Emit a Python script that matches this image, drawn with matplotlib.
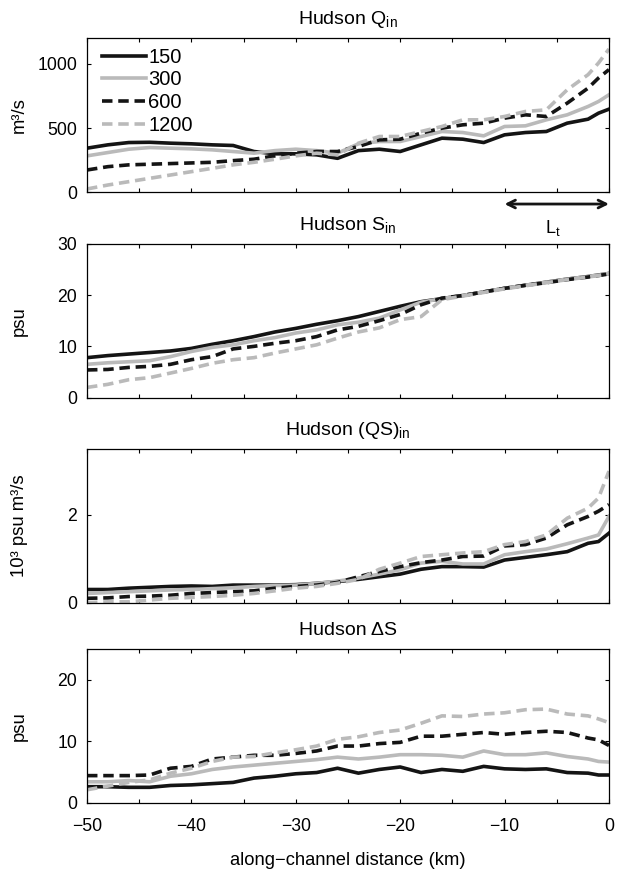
import matplotlib
matplotlib.use("Agg")
import matplotlib.pyplot as plt
from matplotlib.ticker import MultipleLocator

plt.rcParams["font.family"] = ["Liberation Sans", "DejaVu Sans"]
plt.rcParams["mathtext.default"] = "regular"

# along-channel distance (km)
x = [-50, -48, -46, -44, -42, -40, -38, -36, -34, -32, -30, -28, -26, -24,
     -22, -20, -18, -16, -14, -12, -10, -8, -6, -4, -2, -1, 0]

runs = ["150", "300", "600", "1200"]

# Q_in (m3/s)
q150 = [344, 370, 388, 390, 383, 378, 370, 365, 318, 300, 300, 292, 265, 325,
        336, 318, 370, 422, 414, 388, 448, 466, 474, 539, 570, 617, 648]
q300 = [284, 310, 336, 349, 344, 339, 331, 318, 305, 325, 336, 325, 305, 378,
        396, 396, 435, 474, 466, 440, 513, 518, 565, 604, 669, 708, 760]
q600 = [174, 200, 214, 219, 224, 229, 234, 247, 258, 284, 305, 318, 318, 357,
        409, 414, 461, 500, 526, 539, 578, 604, 591, 695, 812, 891, 956]
q1200 = [26, 57, 83, 109, 135, 161, 187, 214, 234, 258, 284, 305, 292, 383,
         435, 435, 474, 513, 565, 565, 591, 630, 643, 799, 917, 1008, 1117]

# S_in (psu)
s150 = [7.8, 8.2, 8.5, 8.8, 9.1, 9.6, 10.4, 11.1, 11.9, 12.8, 13.5, 14.3, 15.0,
        15.8, 16.8, 17.8, 18.7, 19.3, 19.9, 20.6, 21.3, 21.9, 22.5, 23.1, 23.6,
        23.9, 24.2]
s300 = [6.5, 6.8, 7.0, 7.2, 8.0, 9.0, 9.8, 10.3, 11.1, 11.7, 12.6, 13.2, 14.2,
        14.7, 15.5, 17.1, 18.6, 19.3, 19.9, 20.6, 21.3, 21.9, 22.5, 23.1, 23.6,
        23.9, 24.2]
s600 = [5.4, 5.5, 5.9, 6.1, 6.5, 7.4, 8.0, 9.5, 10.0, 10.6, 11.1, 11.9, 13.2,
        13.9, 15.0, 16.2, 18.1, 19.4, 19.9, 20.6, 21.3, 21.9, 22.4, 23.0, 23.5,
        23.8, 24.1]
s1200 = [2.0, 2.6, 3.5, 3.9, 4.8, 5.7, 6.7, 7.4, 7.8, 8.7, 9.5, 10.3, 11.6,
         12.8, 13.6, 15.2, 15.8, 19.1, 19.8, 20.5, 21.2, 21.8, 22.4, 23.0, 23.5,
         23.8, 24.2]

# (QS)_in (10^3 psu m3/s)
qs150 = [0.30, 0.30, 0.33, 0.35, 0.37, 0.38, 0.37, 0.40, 0.40, 0.40, 0.41, 0.44,
         0.48, 0.53, 0.59, 0.65, 0.76, 0.82, 0.82, 0.81, 0.97, 1.03, 1.09, 1.16,
         1.35, 1.39, 1.58]
qs300 = [0.21, 0.23, 0.25, 0.27, 0.29, 0.30, 0.32, 0.34, 0.37, 0.39, 0.40, 0.44,
         0.49, 0.56, 0.65, 0.75, 0.90, 0.94, 0.88, 0.88, 1.09, 1.16, 1.22, 1.34,
         1.47, 1.54, 1.96]
qs600 = [0.10, 0.11, 0.14, 0.15, 0.17, 0.21, 0.23, 0.25, 0.27, 0.33, 0.37, 0.40,
         0.46, 0.59, 0.71, 0.82, 0.91, 0.97, 1.05, 1.06, 1.29, 1.32, 1.47, 1.77,
         1.96, 2.08, 2.23]
qs1200 = [0.00, 0.02, 0.02, 0.06, 0.10, 0.12, 0.14, 0.17, 0.21, 0.27, 0.33, 0.37,
          0.44, 0.53, 0.76, 0.90, 1.05, 1.09, 1.13, 1.16, 1.32, 1.39, 1.54, 1.92,
          2.15, 2.38, 2.99]

# Delta S (psu)
ds150 = [2.6, 2.6, 2.5, 2.5, 2.8, 2.9, 3.1, 3.3, 4.0, 4.3, 4.7, 4.9, 5.6, 4.8,
         5.4, 5.8, 4.9, 5.4, 5.1, 5.9, 5.5, 5.4, 5.5, 4.9, 4.8, 4.5, 4.5]
ds300 = [3.4, 3.4, 3.6, 3.4, 4.3, 4.7, 5.4, 5.8, 6.1, 6.4, 6.7, 7.0, 7.4, 7.1,
         7.4, 7.8, 7.8, 7.7, 7.4, 8.4, 7.8, 7.8, 8.1, 7.5, 7.1, 6.7, 6.6]
ds600 = [4.4, 4.4, 4.4, 4.5, 5.6, 5.9, 7.1, 7.4, 7.7, 7.7, 8.0, 8.4, 9.2, 9.2,
         9.6, 9.8, 10.8, 10.8, 11.1, 11.4, 11.1, 11.4, 11.6, 11.4, 10.5, 10.2, 9.3]
ds1200 = [2.1, 2.7, 3.3, 3.7, 4.8, 5.6, 6.7, 7.4, 7.5, 8.1, 8.6, 9.2, 10.3, 10.7,
          11.4, 11.8, 12.9, 14.1, 14.0, 14.4, 14.6, 15.1, 15.2, 14.4, 14.1, 13.6,
          13.0]

panels = [
    ("Hudson Q$_{in}$", "m\u00b3/s", [q150, q300, q600, q1200], (0, 1200), [0, 500, 1000]),
    ("Hudson S$_{in}$", "psu", [s150, s300, s600, s1200], (0, 30), [0, 10, 20, 30]),
    ("Hudson (QS)$_{in}$", "10\u00b3 psu m\u00b3/s", [qs150, qs300, qs600, qs1200], (0, 3.5), [0, 2]),
    ("Hudson \u0394S", "psu", [ds150, ds300, ds600, ds1200], (0, 25), [0, 10, 20]),
]

black = "#141414"
gray = "#bababa"
styles = [
    dict(color=black, ls="-"),
    dict(color=gray, ls="-"),
    dict(color=black, ls=(0, (2.9, 1.6))),
    dict(color=gray, ls=(0, (2.9, 1.6))),
]

fig = plt.figure(figsize=(6.24, 8.75), dpi=100)
left, width, height = 0.1394, 0.8365, 0.176
bottoms = [0.7802, 0.5455, 0.3112, 0.0826]

axes = []
for i, (title, ylab, series, ylim, yticks) in enumerate(panels):
    ax = fig.add_axes([left, bottoms[i], width, height])
    for name, y, st in zip(runs, series, styles):
        ax.plot(x, y, lw=2.6, label=name, **st)
    ax.set_xlim(-50, 0)
    ax.set_ylim(*ylim)
    ax.set_yticks(yticks)
    ax.xaxis.set_major_locator(MultipleLocator(10))
    ax.xaxis.set_minor_locator(MultipleLocator(5))
    ax.tick_params(which="both", direction="in", top=True, right=True,
                   length=3, width=0.8, labelsize=12.7, pad=7)
    ax.tick_params(axis="x", pad=11)
    ax.set_title(title, fontsize=14, pad=10)
    ax.set_ylabel(ylab, fontsize=13.3)
    ax.yaxis.set_label_coords(-0.113, 0.5)
    for sp in ax.spines.values():
        sp.set_linewidth(0.9)
    if i < 3:
        ax.tick_params(labelbottom=False)
    axes.append(ax)

axes[-1].set_xlabel("along\u2212channel distance (km)", fontsize=13.2, labelpad=12)

leg = axes[0].legend(loc="upper left", bbox_to_anchor=(0.028, 0.94), frameon=False,
                     fontsize=14.5, handlelength=2.2, handletextpad=0.12,
                     labelspacing=0.19, borderaxespad=0, borderpad=0)

# L_t arrow below the first panel
ax0 = axes[0]
tr = ax0.get_xaxis_transform()
ax0.annotate("", xy=(-10, -0.076), xytext=(0, -0.076), xycoords=tr, textcoords=tr,
             arrowprops=dict(arrowstyle="<->", lw=2, color=black,
                             mutation_scale=14, shrinkA=0, shrinkB=0),
             annotation_clip=False)
ax0.text(-5.4, -0.23, "L$_{t}$", transform=tr, ha="center", va="center",
         fontsize=13)

fig.savefig("out.png", dpi=100)
